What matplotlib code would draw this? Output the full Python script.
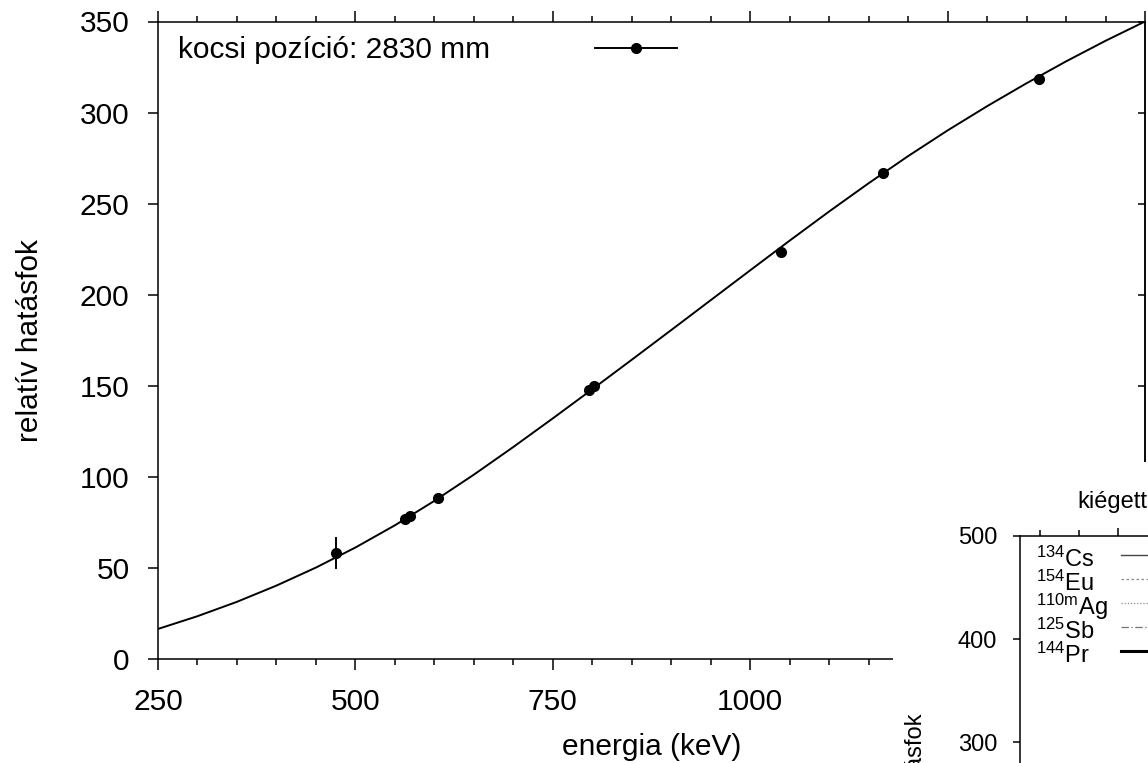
import matplotlib
matplotlib.use('Agg')
import matplotlib.pyplot as plt
from matplotlib.lines import Line2D
from matplotlib.patches import Rectangle
from matplotlib.ticker import MultipleLocator

plt.rcParams['font.family'] = ['Liberation Sans', 'DejaVu Sans']
plt.rcParams['mathtext.fontset'] = 'custom'
plt.rcParams['mathtext.rm'] = 'Liberation Sans'
plt.rcParams['mathtext.it'] = 'Liberation Sans'
plt.rcParams['mathtext.bf'] = 'Liberation Sans:bold'

# ---------------- data ----------------
energy = [475.4, 563.2, 569.3, 604.7, 795.9, 801.9, 1038.6, 1167.9, 1365.2]
efficiency = [58.0, 76.8, 78.4, 88.3, 147.6, 149.8, 223.4, 266.8, 318.5]
eff_error = [8.8, 1.0, 1.0, 1.2, 1.5, 1.5, 2.0, 2.0, 2.5]

fit_energy = [250, 300, 350, 400, 450, 500, 550, 600, 650, 700, 750, 800, 850,
              900, 950, 1000, 1050, 1100, 1150, 1200, 1250, 1300, 1350, 1400,
              1450, 1500]
fit_eff = [16.5, 23.5, 31.4, 40.3, 50.2, 61.2, 73.4, 86.8, 101.2, 116.4, 132.1,
           148.1, 164.3, 180.6, 197.0, 213.4, 229.7, 245.7, 261.2, 276.1, 290.2,
           303.5, 316.1, 328.1, 339.4, 350.0]

x_ticks = [250, 500, 750, 1000, 1250, 1500]
x_ticklabels = ['250', '500', '750', '1000', '', '']
legend_label = 'kocsi pozíció: 2830 mm'

# second (overlapping) panel
iso_labels = [r'$^{134}$Cs', r'$^{154}$Eu', r'$^{110\mathrm{m}}$Ag', r'$^{125}$Sb', r'$^{144}$Pr']
iso_styles = ['-', (0, (2, 2)), (0, (1, 1.5)), (0, (6, 2, 1, 2)), '-']
iso_colors = ['#444444', '#8a8a8a', '#8a8a8a', '#777777', '#000000']
iso_widths = [1.0, 0.9, 0.9, 0.9, 2.2]
panel2_yticks = [300, 400, 500]

# ---------------- layout helpers ----------------
W, H = 1148, 763
fig = plt.figure(figsize=(W / 100, H / 100), dpi=100)


def fx(px):
    return px / W


def fy(py):
    return 1 - py / H


FS = 21.5
FS2 = 17

ax = fig.add_axes([fx(158), fy(659), fx(1145) - fx(158), fy(21.5) - fy(659)])
ax.set_xlim(250, 1500)
ax.set_ylim(0, 350)

ax.plot(fit_energy, fit_eff, color='k', lw=1.4, zorder=2)
ax.errorbar(energy, efficiency, yerr=eff_error, fmt='o', color='k', ms=7,
            elinewidth=1.4, capsize=0, zorder=3)

ax.set_xticks(x_ticks, labels=x_ticklabels)
ax.xaxis.set_minor_locator(MultipleLocator(50))
ax.yaxis.set_major_locator(MultipleLocator(50))
for s in ax.spines.values():
    s.set_linewidth(1.1)
ax.tick_params(axis='x', which='both', direction='out', top=True, bottom=True,
               width=1.1, labelsize=FS, pad=13)
ax.tick_params(axis='x', which='major', length=8)
ax.tick_params(axis='x', which='minor', length=4)
ax.tick_params(axis='y', which='major', direction='out', left=True, right=False,
               length=7.5, width=1.1, labelsize=FS, pad=13)
sec = ax.secondary_yaxis('right')
sec.yaxis.set_major_locator(MultipleLocator(50))
sec.tick_params(direction='in', length=5, width=1.1, labelright=False)
sec.spines['right'].set_linewidth(1.1)

ax.set_xlabel('energia (keV)', fontsize=FS, labelpad=12)
ax.set_ylabel('relatív hatásfok', fontsize=FS, labelpad=26)

h = Line2D([], [], color='k', marker='o', markersize=7, lw=1.4)
ax.legend([h], [legend_label], loc='upper left',
          bbox_to_anchor=(0.0203, 1 - 14.5 / 637.5), frameon=False,
          markerfirst=False, handlelength=2.76, handletextpad=3.5,
          borderpad=0, borderaxespad=0, fontsize=FS, numpoints=1)

# white background of the overlapping second figure
fig.add_artist(Rectangle((fx(893), 0), 1 - fx(893), fy(462),
                         transform=fig.transFigure, facecolor='white',
                         edgecolor='none', zorder=1))

# ---------------- second panel (partly visible) ----------------
ax2 = fig.add_axes([fx(1020), fy(1051.5), fx(1605) - fx(1020), fy(536) - fy(1051.5)],
                   zorder=2)
ax2.set_xlim(375, 1125)
ax2.set_ylim(0, 500)
ax2.set_yticks(panel2_yticks)
ax2.xaxis.set_major_locator(MultipleLocator(250))
ax2.xaxis.set_minor_locator(MultipleLocator(50))
for s in ax2.spines.values():
    s.set_linewidth(1.1)
ax2.tick_params(axis='x', which='both', direction='out', top=True, bottom=False,
                labeltop=False, labelbottom=False, width=1.1)
ax2.tick_params(axis='x', which='major', length=6)
ax2.tick_params(axis='x', which='minor', length=4)
ax2.tick_params(axis='y', direction='out', length=5, width=1.1, labelsize=FS2, pad=11.5)
ax2.set_ylabel('relatív hatásfok', fontsize=FS2, labelpad=22)

fig.text(fx(1077), fy(508), 'kiégett', ha='left', va='baseline', fontsize=FS2, zorder=3)

for i, lab in enumerate(iso_labels):
    fig.text(fx(1036), fy(566.5 + 24 * i), lab, ha='left', va='baseline',
             fontsize=FS2, zorder=3)

iso_handles = [Line2D([], [], color=c, ls=ls, lw=lw)
               for c, ls, lw in zip(iso_colors, iso_styles, iso_widths)]
ax2.legend(iso_handles, [''] * len(iso_handles), loc='upper left',
           bbox_to_anchor=((1121 - 1020) / 585, 1 - 10.5 / 515.5), frameon=False,
           handlelength=4.0, handletextpad=0, borderpad=0, borderaxespad=0,
           labelspacing=0.08, fontsize=FS2)

fig.savefig('out.png', dpi=100)
